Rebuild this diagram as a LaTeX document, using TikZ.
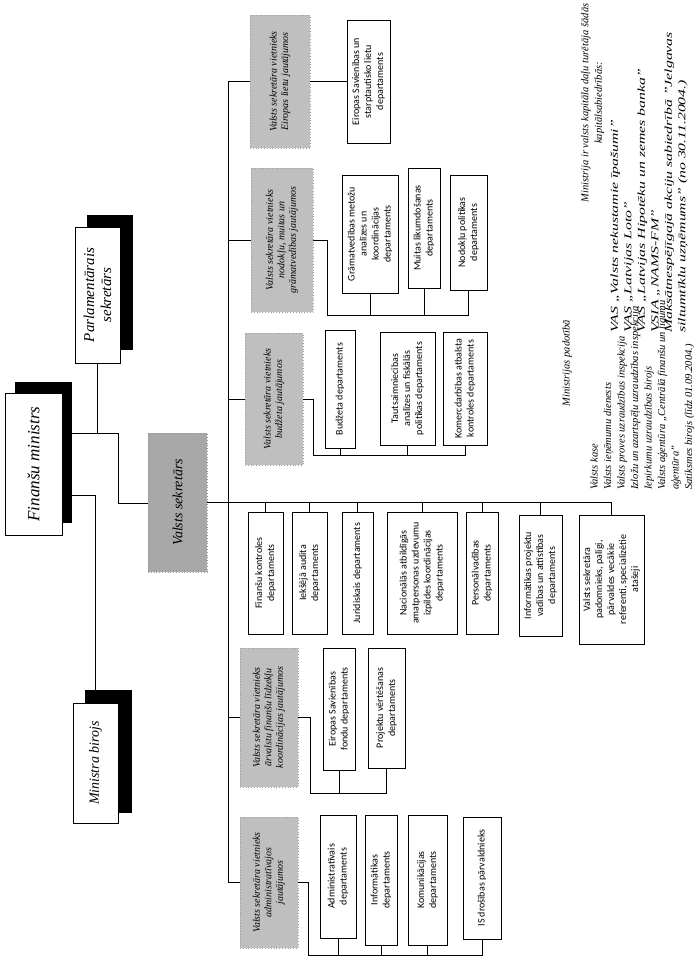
\documentclass[tikz,border=0pt]{standalone}
\usepackage{fontspec}
\usepackage{graphicx}
\setmainfont{Liberation Serif}
\newfontfamily\deptfam{Carlito}
\newcommand\rtext[2]{\rotatebox{90}{\parbox{#1}{\centering #2}}}
\newcommand\bx[7]{\node[#1,minimum width=#5pt,minimum height=#6pt] (#2) at (#3pt,-#4pt) {\rtext{\dimexpr #6pt-8pt\relax}{#7}};}
\begin{document}
\begin{tikzpicture}[x=1pt,y=1pt,
  line width=0.7pt,
  dept/.style={draw, line width=0.8pt, fill=white, inner sep=0pt, font=\deptfam\fontsize{10}{12}\selectfont},
  dep/.style={draw=gray!75, dotted, line width=0.8pt, fill=gray!50, inner sep=0pt, font=\itshape\fontsize{10}{11.5}\selectfont},
  sekr/.style={draw=gray!80, dotted, line width=0.8pt, fill=gray!68, inner sep=0pt, font=\itshape\fontsize{14}{16}\selectfont},
  dbl/.style={draw, line width=0.7pt, fill=white, inner sep=0pt, font=\itshape\fontsize{14}{17}\selectfont,
    append after command={\pgfextra{\draw[line width=0.7pt] ([shift={(2pt,-2pt)}]\tikzlastnode.north west) rectangle ([shift={(-2pt,2pt)}]\tikzlastnode.south east);}}},
  shad/.style={fill=black, inner sep=0pt},
  note/.style={rotate=90, inner sep=0pt, font=\itshape\fontsize{10.5}{13.5}\selectfont}]
\useasboundingbox (0,0) rectangle (700,-961);
\fill[white] (0,0) rectangle (700,-961);

% coordinates for connectors
\coordinate (m1) at (118,-433);
\coordinate (m2) at (118,-503);
\coordinate (vb) at (228,0);
\coordinate (j2) at (327,-315);
\coordinate (j3) at (313,-455);
\coordinate (j4) at (310,-793);
\coordinate (j5) at (308,-955);

% connectors behind top boxes
\draw (72,-433) -- (m1) -- (m2) -- (148,-503);
\draw (97.5,-363) -- (97.5,-433);
\draw (72,-495) -| (95.5,-690);

% shadows and top boxes
\node[shad, minimum width=57pt, minimum height=141pt] (minS) at (43.5,-452.5) {};
\node[shad, minimum width=46pt, minimum height=135pt] (parlS) at (110,-282.5) {};
\node[shad, minimum width=47pt, minimum height=123pt] (birS) at (108.5,-751.5) {};
\bx{dbl}{min}{33.5}{464}{57}{142}{\fontsize{17}{20}\selectfont Finanšu ministrs}
\bx{dbl}{parl}{97.5}{295}{45}{136}{\fontsize{15}{17}\selectfont Parlamentārais\\ sekretārs}
\bx{dbl}{bir}{95.5}{763}{45}{120}{Ministra birojs}
\bx{sekr}{sek}{177.5}{502.5}{59}{139}{Valsts sekretārs}

% deputies
\bx{dep}{d1}{280}{81.5}{60}{133}{Valsts sekretāra vietnieks\\ Eiropas lietu jautājumos}
\bx{dep}{d2}{282}{240}{62}{144}{Valsts sekretāra vietnieks\\ nodokļu, muitas un\\ grāmatvedības jautājumos}
\bx{dep}{d3}{274}{399}{58}{132}{Valsts sekretāra vietnieks\\ budžeta jautājumos}
\bx{dep}{d4}{269}{717.5}{58}{139}{Valsts sekretāra vietnieks\\ ārvalstu finanšu līdzekļu\\ koordinācijas jautājumos}
\bx{dep}{d5}{269}{882.5}{58}{131}{Valsts sekretāra vietnieks\\ administratīvajos\\ jautājumos}

% departments
\bx{dept}{e1}{368.5}{81.5}{43}{123}{Eiropas Savienības un\\ starptautisko lietu\\ departaments}
\bx{dept}{gram}{370}{234}{56}{118}{Grāmatvedības metožu\\ analīzes un\\ koordinācijas\\ departaments}
\bx{dept}{muit}{424}{228}{32}{120}{Muitas likumdošanas\\ departaments}
\bx{dept}{nod}{468.5}{232.5}{37}{115}{Nodokļu politikas\\ departaments}
\bx{dept}{bud}{340}{389}{30}{118}{Budžeta departaments}
\bx{dept}{taut}{407.5}{388.5}{55}{113}{Tautsaimniecības\\ analīzes un fiskālās\\ politikas departaments}
\bx{dept}{kom}{465}{388.5}{44}{113}{Komercdarbības atbalsta\\ kontroles departaments}
\bx{dept}{esf}{339}{709}{32}{122}{Eiropas Savienības\\ fondu departaments}
\bx{dept}{proj}{386.5}{708}{37}{120}{Projektu vērtēšanas\\ departaments}
\bx{dept}{adm}{338}{876.5}{36}{123}{Administratīvais\\ departaments}
\bx{dept}{inf}{381}{880}{32}{130}{Informātikas\\ departaments}
\bx{dept}{komu}{427.5}{880}{39}{130}{Komunikācijas\\ departaments}
\bx{dept}{isd}{482}{878}{38}{122}{IS drošības pārvaldnieks}
\bx{dept}{fk}{265.5}{573}{35}{122}{Finanšu kontroles\\ departaments}
\bx{dept}{ia}{309.5}{573}{35}{122}{Iekšējā audita\\ departaments}
\bx{dept}{jur}{357.5}{573}{31}{122}{Juridiskais departaments}
\bx{dept}{nac}{422}{573}{70}{122}{Nacionālās atbildīgās\\ amatpersonas uzdevumu\\ izpildes koordinācijas\\ departaments}
\bx{dept}{pers}{482}{573}{32}{122}{Personālvadības\\ departaments}
\bx{dept}{ip}{540.5}{575.5}{43}{121}{Informātikas projektu\\ vadības un attīstības\\ departaments}
\bx{dept}{pad}{611.5}{579.5}{65}{129}{Valsts sekretāra\\ padomnieks, palīgi,\\ pārvaldes vecākie\\ referenti, specializētie\\ atašeji}

% connectors between named nodes
\draw (sek.east) -- (sek.east -| pad.north);
\foreach \n in {fk,ia,jur,nac,pers,ip,pad} \draw (\n.north) -- (\n.north |- sek.east);
\draw (vb |- d1.west) -- (vb |- d5.west);
\foreach \d in {d1,d2,d3,d4,d5} \draw (vb |- \d.west) -- (\d.west);
\draw (d1.east) -- (e1.west |- d1.east);
\draw (d2.east) -| (j2) -- (j2 -| nod.south) -- (nod.south);
\foreach \n in {gram,muit} \draw (\n.south) -- (\n.south |- j2);
\draw (d3.east) -| (j3) -- (j3 -| kom.south) -- (kom.south);
\foreach \n in {bud,taut} \draw (\n.south) -- (\n.south |- j3);
\draw (d4.east) -| (j4) -- (j4 -| proj.south) -- (proj.south);
\draw (esf.south) -- (esf.south |- j4);
\draw (d5.east) -| (j5) -- (j5 -| isd.south) -- (isd.south);
\foreach \n in {adm,inf,komu} \draw (\n.south) -- (\n.south |- j5);

% notes
\node[note] (pad1) at (567,-363) {Ministrijas padotībā};
\node[note, anchor=north west, align=left] (list1) at (590,-490) {Valsts kase\\ Valsts ieņēmumu dienests\\ Valsts proves uzraudzības inspekcija\\ Izložu un azartspēļu uzraudzības inspekcija\\ Iepirkumu uzraudzības birojs\\ Valsts aģentūra „Centrālā finanšu un līgumu\\ aģentūra”\\ Satiksmes birojs (līdz 01.09.2004.)};
\node[note, align=center] (head2) at (592.5,-103) {Ministrija ir valsts kapitāla daļu turētāja šādās\\ kapitālsabiedrībās:};
\node[note, anchor=north west] (list2) at (608,-333) {\scalebox{1.5}[1]{\begin{tabular}{@{}l@{}}VAS „Valsts nekustamie īpašumi”\\ VAS „Latvijas Loto”\\ VAS „Latvijas Hipotēku un zemes banka”\\ VSIA „NAMS-FM”\\ Maksātnespējīgajā akciju sabiedrībā "Jelgavas\\ siltumtīklu uzņēmums" (no 30.11.2004.)\end{tabular}}};
\end{tikzpicture}
\end{document}
